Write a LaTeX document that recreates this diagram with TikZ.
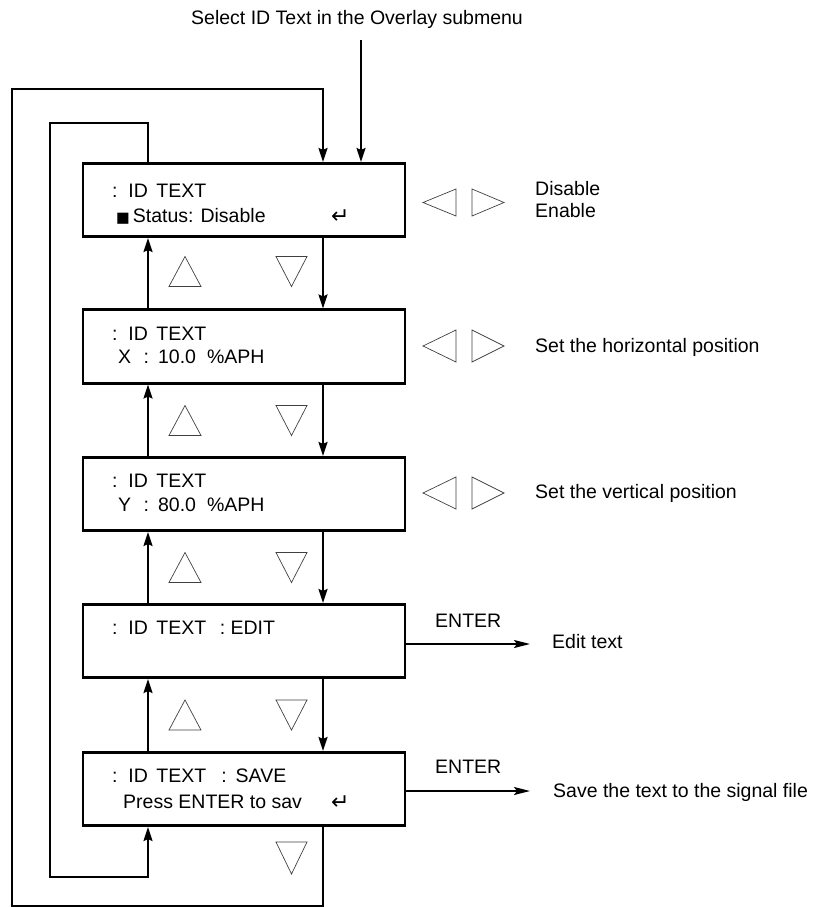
\documentclass[tikz,border=0pt]{standalone}
\usepackage{fontspec}
\setmainfont{Liberation Sans}
\newfontfamily\symfont{DejaVu Sans}
\usetikzlibrary{arrows.meta}
\begin{document}
\begin{tikzpicture}[x=1pt,y=-1pt,
  menubox/.style={draw, line width=2.6pt, minimum width=322pt, minimum height=73.5pt, inner sep=0pt},
  txt/.style={anchor=base west, inner sep=0pt, font=\fontsize{19.5}{23}\selectfont},
  retsym/.style={anchor=base west, inner sep=0pt, font=\symfont\fontsize{22}{22}\selectfont},
  conn/.style={line width=1.8pt},
  arr/.style={conn, -{Stealth[length=14pt,width=9pt,inset=2pt]}},
  harr/.style={conn, -{Stealth[length=16pt,width=8pt,inset=3pt]}},
  tri/.style={draw=black!75, line width=0.7pt}]
\useasboundingbox (0,0) rectangle (815,907);

% boxes
\node[menubox] (b1) at (244,200) {};
\node[menubox] (b2) at (244,346.5) {};
\node[menubox] (b3) at (244,494) {};
\node[menubox] (b4) at (244,641) {};
\node[menubox] (b5) at (244,789) {};

% box texts
\node[txt] (t1a) at (112,197) {:\ \ ID\hspace{8.5pt}TEXT};
\node[txt] (t1b) at (116,222) {{\symfont\fontsize{14.5}{14.5}\selectfont ■}\hspace{3pt}Status:\hspace{7pt}Disable};
\node[retsym] (t1c) at (331,223) {↵};
\node[txt] (t2a) at (112,340) {:\ \ ID\hspace{8.5pt}TEXT};
\node[txt] (t2b) at (118,363) {X\hspace{12.5pt}:\hspace{9pt}10.0\hspace{11pt}\%APH};
\node[txt] (t3a) at (112,487) {:\ \ ID\hspace{8.5pt}TEXT};
\node[txt] (t3b) at (118,511) {Y\hspace{12.5pt}:\hspace{9pt}80.0\hspace{11pt}\%APH};
\node[txt] (t4a) at (112,634) {:\ \ ID\hspace{8.5pt}TEXT\hspace{13.5pt}:\ EDIT};
\node[txt] (t5a) at (112,782) {:\ \ ID\hspace{8.5pt}TEXT\hspace{15pt}:\hspace{9pt}SAVE};
\node[txt] (t5b) at (123,808) {Press ENTER to sav};
\node[retsym] (t5c) at (331,809) {↵};

% right-hand texts
\node[txt] (sel) at (191,25) {Select ID Text in the Overlay submenu};
\node[txt] (dis) at (535,195) {Disable};
\node[txt] (ena) at (535,217) {Enable};
\node[txt] (hor) at (535,352) {Set the horizontal position};
\node[txt] (ver) at (535,498) {Set the vertical position};
\node[txt] (ent1) at (435,627) {ENTER};
\node[txt] (edit) at (552,648) {Edit text};
\node[txt] (ent2) at (435,773) {ENTER};
\node[txt] (save) at (553,797) {Save the text to the signal file};

% helper coordinates
\coordinate (dx) at (323,0);
\coordinate (ux) at (148,0);
\coordinate (in0) at (361,40);
\coordinate (e1) at (530,644);
\coordinate (e2) at (530,791);

% incoming arrow
\draw[arr] (in0) -- (b1.north -| in0);

% down arrows
\draw[arr] (b1.south -| dx) -- (b2.north -| dx);
\draw[arr] (b2.south -| dx) -- (b3.north -| dx);
\draw[arr] (b3.south -| dx) -- (b4.north -| dx);
\draw[arr] (b4.south -| dx) -- (b5.north -| dx);
% up arrows
\draw[arr] (b2.north -| ux) -- (b1.south -| ux);
\draw[arr] (b3.north -| ux) -- (b2.south -| ux);
\draw[arr] (b4.north -| ux) -- (b3.south -| ux);
\draw[arr] (b5.north -| ux) -- (b4.south -| ux);

% wrap loops
\draw[arr] (b5.south -| dx) -- (323,905.8) -- (12,905.8) -- (12,89) -- (323,89) -- (b1.north -| dx);
\draw[arr] (b1.north -| ux) -- (148,123) -- (50,123) -- (50,877) -- (148,877) -- (b5.south -| ux);

% enter arrows
\draw[harr] (b4.east |- e1) -- (e1);
\draw[harr] (b5.east |- e2) -- (e2);

% up/down triangles
\foreach \c in {271.5,420.5,567.5,715} {
  \draw[tri] (169,\c+15) -- (201,\c+15) -- (185,\c-15) -- cycle;
  \draw[tri] (276,\c-15) -- (307,\c-15) -- (291.5,\c+15) -- cycle;
}
\draw[tri] (276,842) -- (307,842) -- (291.5,874) -- cycle;

% left/right triangles
\draw[tri] (456,189) -- (456,216) -- (423,202.5) -- cycle;
\draw[tri] (472,189) -- (472,216) -- (504,202.5) -- cycle;
\foreach \c in {346,493} {
  \draw[tri] (456,\c-16) -- (456,\c+16) -- (423,\c) -- cycle;
  \draw[tri] (472,\c-16) -- (472,\c+16) -- (504,\c) -- cycle;
}
\end{tikzpicture}
\end{document}
